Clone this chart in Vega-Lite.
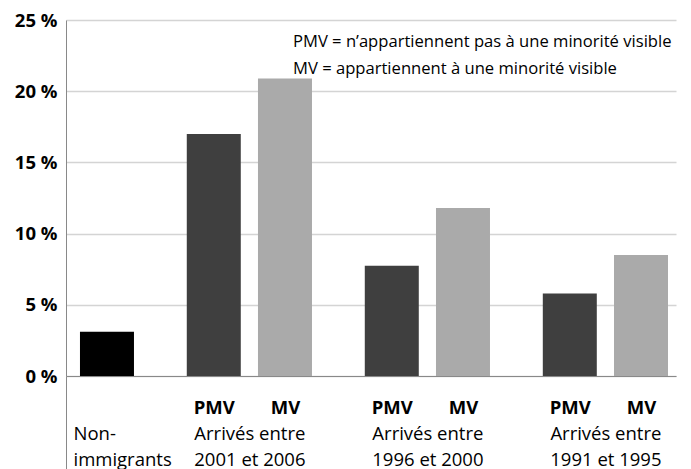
{
  "$schema": "https://vega.github.io/schema/vega-lite/v6.json",
  "autosize": {"type": "none"},
  "padding": {"left": 66, "top": 20, "right": 15, "bottom": 93},
  "width": 610,
  "height": 356,
  "background": "white",
  "config": {"view": {"stroke": null}, "font": "Open Sans"},
  "title": {
    "text": ["PMV = n’appartiennent pas à une minorité visible", "MV = appartiennent à une minorité visible"],
    "orient": "top",
    "anchor": "start",
    "frame": "group",
    "align": "left",
    "baseline": "alphabetic",
    "dx": 227,
    "dy": 80,
    "offset": 0,
    "font": "Open Sans",
    "fontSize": 16.6,
    "fontWeight": "normal",
    "color": "#000000",
    "lineHeight": 27.6
  },
  "data": {
    "values": [
      {"categorie": "NI", "groupe": "Non-immigrants", "taux": 3.1},
      {"categorie": "PMV 2001-2006", "groupe": "PMV", "taux": 17.0},
      {"categorie": "MV 2001-2006", "groupe": "MV", "taux": 20.9},
      {"categorie": "PMV 1996-2000", "groupe": "PMV", "taux": 7.75},
      {"categorie": "MV 1996-2000", "groupe": "MV", "taux": 11.8},
      {"categorie": "PMV 1991-1995", "groupe": "PMV", "taux": 5.8},
      {"categorie": "MV 1991-1995", "groupe": "MV", "taux": 8.5}
    ]
  },
  "mark": {"type": "bar", "width": 54},
  "encoding": {
    "x": {
      "field": "categorie",
      "type": "nominal",
      "sort": null,
      "scale": {
        "domain": ["NI", "_1", "_2", "PMV 2001-2006", "Arrivés 2001-2006", "MV 2001-2006", "_3", "_4", "PMV 1996-2000", "Arrivés 1996-2000", "MV 1996-2000", "_5", "_6", "PMV 1991-1995", "Arrivés 1991-1995", "MV 1991-1995"],
        "paddingInner": 0,
        "paddingOuter": 0.567,
        "align": 0.574
      },
      "axis": {
        "title": null,
        "domain": true,
        "domainColor": "#898989",
        "domainWidth": 1,
        "ticks": true,
        "tickSize": 93,
        "tickOffset": -41,
        "tickWidth": 1,
        "tickColor": {"condition": {"test": "datum.value === 'NI'", "value": "#898989"}, "value": "transparent"},
        "grid": false,
        "labelAngle": 0,
        "labelOverlap": false,
        "labelBound": false,
        "labelLimit": 300,
        "labelFont": "Open Sans",
        "labelFontSize": 18.5,
        "labelColor": "#000000",
        "labelLineHeight": 26,
        "labelBaseline": "top",
        "labelPadding": -71,
        "labelAlign": {"condition": {"test": "datum.value === 'NI'", "value": "left"}, "value": "center"},
        "labelOffset": {"condition": {"test": "datum.value === 'NI'", "value": 7}, "value": 41},
        "labelFontWeight": {"condition": {"test": "indexof(datum.value, 'MV') >= 0", "value": "bold"}, "value": "normal"},
        "labelExpr": "datum.value === 'NI' ? ['', 'Non-', 'immigrants'] : indexof(datum.value, 'PMV') === 0 ? 'PMV' : indexof(datum.value, 'MV') === 0 ? 'MV' : indexof(datum.value, 'Arrivés') === 0 ? ['', 'Arrivés entre', replace(slice(datum.value, 8), '-', ' et ')] : ''"
      }
    },
    "y": {
      "field": "taux",
      "type": "quantitative",
      "scale": {"domain": [0, 25], "nice": false},
      "axis": {
        "title": null,
        "values": [0, 5, 10, 15, 20, 25],
        "labelExpr": "datum.value + ' %'",
        "domain": true,
        "domainColor": "#898989",
        "domainWidth": 1,
        "ticks": false,
        "labelPadding": 9,
        "labelFont": "Open Sans",
        "labelFontSize": 18.5,
        "labelFontWeight": "bold",
        "labelColor": "#000000",
        "grid": true,
        "gridColor": "#d4d4d4",
        "gridWidth": 1.5
      }
    },
    "color": {
      "field": "groupe",
      "type": "nominal",
      "scale": {"domain": ["Non-immigrants", "PMV", "MV"], "range": ["#000000", "#3f3f3f", "#aaaaaa"]},
      "legend": null
    }
  }
}
